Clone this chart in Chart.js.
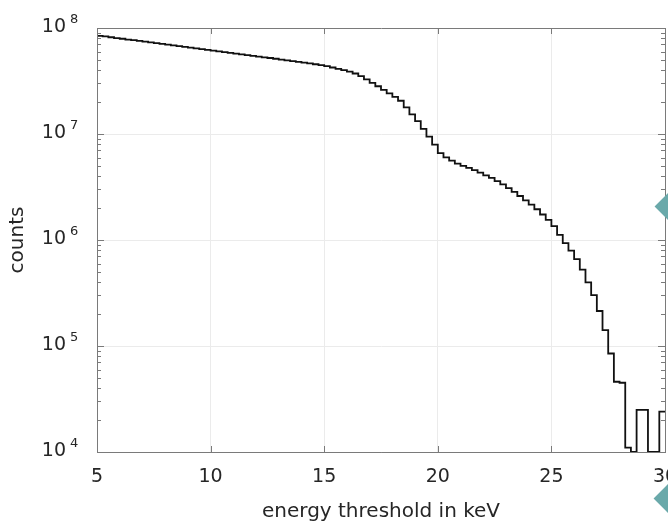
<!DOCTYPE html>
<html>
<head>
<meta charset="utf-8">
<title>counts vs energy threshold</title>
<script src="https://cdn.jsdelivr.net/npm/chart.js@4.4.1/dist/chart.umd.min.js"></script>
<style>
  html, body { margin: 0; padding: 0; background: #fff; overflow: hidden; }
  #wrap { position: relative; width: 668px; height: 528px; overflow: hidden; }
  #chart { position: absolute; left: 0; top: 0; }
  .diamond { position: absolute; width: 31px; height: 31px; background: #6aa9aa; transform: rotate(45deg); }
</style>
</head>
<body>
<div id="wrap">
  <canvas id="chart" width="700" height="528"></canvas>
  <div class="diamond" style="left:661px; top:191px"></div>
  <div class="diamond" style="left:660px; top:483px"></div>
</div>
<script>
// histogram binning (keV)
const binStart = 5;
const binWidth = 0.25;

// counts per 0.25 keV bin, 5 keV .. 30 keV
const counts = [
  8.43e7, 8.32e7, 8.18e7, 8.04e7, 7.92e7, 7.78e7, 7.67e7, 7.55e7, 7.43e7, 7.31e7, // 5 - 7.5
  7.19e7, 7.08e7, 6.97e7, 6.85e7, 6.75e7, 6.64e7, 6.53e7, 6.43e7, 6.32e7, 6.22e7, // 7.5 - 10
  6.12e7, 6.03e7, 5.93e7, 5.83e7, 5.73e7, 5.64e7, 5.55e7, 5.46e7, 5.37e7, 5.28e7, // 10 - 12.5
  5.21e7, 5.13e7, 5.04e7, 4.95e7, 4.88e7, 4.80e7, 4.72e7, 4.63e7, 4.55e7, 4.47e7, // 12.5 - 15
  4.36e7, 4.24e7, 4.11e7, 4.00e7, 3.88e7, 3.72e7, 3.51e7, 3.27e7, 3.03e7, 2.82e7, // 15 - 17.5
  2.61e7, 2.42e7, 2.24e7, 2.06e7, 1.78e7, 1.53e7, 1.32e7, 1.12e7, 9.44e6, 7.94e6, // 17.5 - 20
  6.61e6, 6.03e6, 5.62e6, 5.25e6, 5.01e6, 4.79e6, 4.57e6, 4.32e6, 4.07e6, 3.85e6, // 20 - 22.5
  3.59e6, 3.35e6, 3.09e6, 2.85e6, 2.60e6, 2.37e6, 2.16e6, 1.95e6, 1.74e6, 1.55e6, // 22.5 - 25
  1.35e6, 1.12e6, 9.33e5, 7.94e5, 6.61e5, 5.25e5, 3.98e5, 3.02e5, 2.14e5, 1.41e5, // 25 - 27.5
  8.5e4,  4.6e4,  4.5e4,  1.1e4,  0,      2.5e4,  2.5e4,  0,      0,      2.4e4   // 27.5 - 30
];

const xTicks = [5, 10, 15, 20, 25, 30];
const yTicks = [1e4, 1e5, 1e6, 1e7, 1e8];
const yMin = 1e4;
const yMax = 1e8;

document.addEventListener("DOMContentLoaded", function() {
  const FONT = "'DejaVu Sans', sans-serif";
  const TEXT = "#262626";

  // bin edges -> step points; empty bins sit on the bottom of the log axis
  const points = [];
  for (let i = 0; i <= counts.length; i++) {
    const c = counts[Math.min(i, counts.length - 1)];
    points.push({ x: binStart + i * binWidth, y: c > 0 ? c : yMin });
  }

  // box around the plot, inward tick marks (major + log minor), 10^n labels
  const frameTicks = {
    id: "frameTicks",
    afterDraw(chart) {
      const { ctx, chartArea: a, scales: { x, y } } = chart;
      ctx.save();
      ctx.strokeStyle = "#7a7a7a";
      ctx.lineWidth = 1;
      ctx.beginPath();
      ctx.rect(a.left + 0.5, a.top + 0.5, a.right - a.left, a.bottom - a.top);
      for (let e = 4; e < 8; e++) {
        for (let m = 1; m < 10; m++) {
          const py = Math.round(y.getPixelForValue(m * Math.pow(10, e))) + 0.5;
          const len = m === 1 ? 7 : 4;
          ctx.moveTo(a.left, py); ctx.lineTo(a.left + len, py);
          ctx.moveTo(a.right, py); ctx.lineTo(a.right - len, py);
        }
      }
      xTicks.forEach(function(v) {
        const px = Math.round(x.getPixelForValue(v)) + 0.5;
        ctx.moveTo(px, a.bottom); ctx.lineTo(px, a.bottom - 6);
        ctx.moveTo(px, a.top); ctx.lineTo(px, a.top + 6);
      });
      ctx.stroke();

      // y tick labels with a raised exponent
      ctx.fillStyle = TEXT;
      ctx.textBaseline = "middle";
      yTicks.forEach(function(v) {
        const py = y.getPixelForValue(v);
        const exp = String(Math.round(Math.log10(v)));
        ctx.font = "19px " + FONT;
        ctx.textAlign = "right";
        ctx.fillText("10", a.left - 31, py - 1);
        ctx.font = "13px " + FONT;
        ctx.textAlign = "left";
        ctx.fillText(exp, a.left - 27, py - 8);
      });
      ctx.restore();
    }
  };

  const config = {
    type: "line",
    data: {
      datasets: [{
        data: points,
        stepped: "before",
        borderColor: "#111",
        borderWidth: 1.8,
        pointRadius: 0,
        fill: false
      }]
    },
    options: {
      responsive: false,
      animation: false,
      events: [],
      layout: { padding: { top: 28, right: 35, left: 0, bottom: 0 } },
      plugins: { legend: { display: false }, tooltip: { enabled: false } },
      scales: {
        x: {
          type: "linear",
          min: 5,
          max: 30,
          afterBuildTicks: function(s) { s.ticks = xTicks.map(v => ({ value: v })); },
          afterFit: function(s) { s.height = 76; },
          ticks: { color: TEXT, font: { family: FONT, size: 19 }, padding: 14, maxRotation: 0 },
          grid: { color: "#ebebeb", drawTicks: false },
          border: { color: "#7a7a7a" },
          title: { display: true, text: "energy threshold in keV", color: TEXT, font: { family: FONT, size: 20 }, padding: { bottom: 4 } }
        },
        y: {
          type: "logarithmic",
          min: yMin,
          max: yMax,
          afterBuildTicks: function(s) { s.ticks = yTicks.map(v => ({ value: v })); },
          afterFit: function(s) { s.width = 97; },
          ticks: { display: false },
          grid: { color: "#ebebeb", drawTicks: false },
          border: { color: "#7a7a7a" },
          title: { display: true, text: "counts", color: TEXT, font: { family: FONT, size: 20 }, padding: { top: 6 } }
        }
      }
    },
    plugins: [frameTicks]
  };

  new Chart(document.getElementById("chart"), config);
});
</script>
</body>
</html>
